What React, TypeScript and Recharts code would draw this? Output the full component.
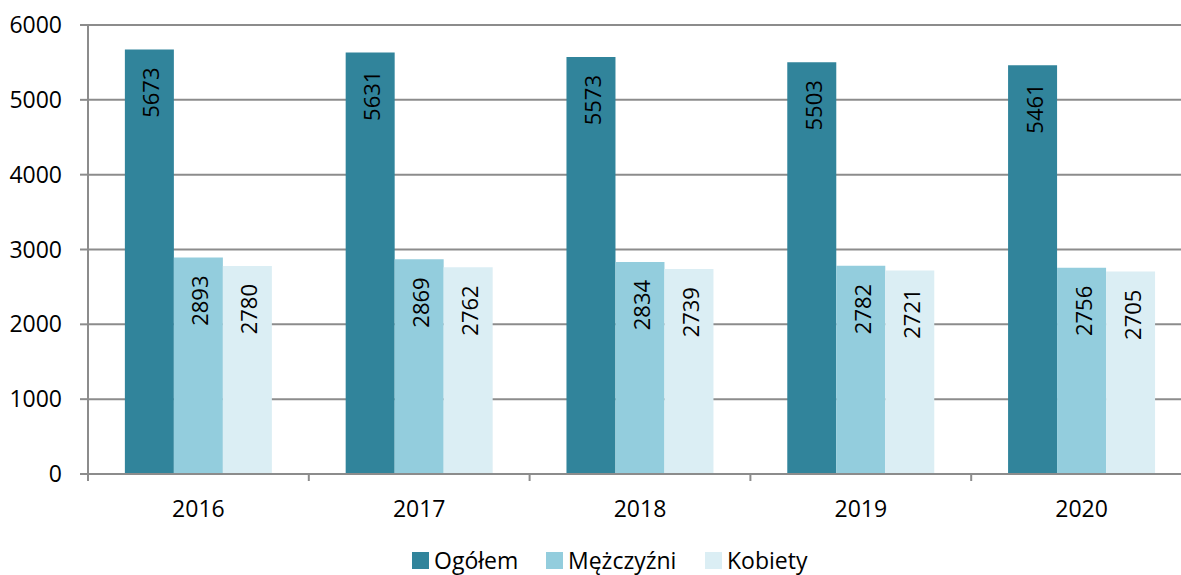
import { Bar, BarChart, CartesianGrid, LabelList, Legend, XAxis, YAxis } from "recharts";

const years = ["2016", "2017", "2018", "2019", "2020"];
const ogolem = [5673, 5631, 5573, 5503, 5461];
const mezczyzni = [2893, 2869, 2834, 2782, 2756];
const kobiety = [2780, 2762, 2739, 2721, 2705];
const yTicks = [0, 1000, 2000, 3000, 4000, 5000, 6000];

const series = [
  { key: "ogolem", name: "Ogółem", color: "#31849B" },
  { key: "mezczyzni", name: "Mężczyźni", color: "#93CDDD" },
  { key: "kobiety", name: "Kobiety", color: "#DBEEF4" },
];

const data = years.map((year, i) => ({
  year,
  ogolem: ogolem[i],
  mezczyzni: mezczyzni[i],
  kobiety: kobiety[i],
}));

const FONT = "'Open Sans', sans-serif";
const AXIS = "#8c8c8c";
const BAND = 1104 / years.length;
// legend item widths, so the swatches land where they do in the original
const LEGEND_W = [134, 159, 110];

function BarValue(props: any) {
  const { x, y, width, value } = props;
  const cx = x + width / 2 + 1;
  const y0 = y + 18;
  return (
    <text
      x={cx}
      y={y0}
      transform={`rotate(-90, ${cx}, ${y0})`}
      textAnchor="end"
      dominantBaseline="central"
      fontSize={22}
      fontFamily={FONT}
      fill="#000"
    >
      {value}
    </text>
  );
}

function YearTick(props: any) {
  const { x, y, payload, index } = props;
  const left = x - BAND / 2;
  const right = x + BAND / 2;
  return (
    <g>
      <line x1={left} x2={left} y1={y - 7} y2={y} stroke={AXIS} strokeWidth={2} />
      {index === years.length - 1 && (
        <line x1={right} x2={right} y1={y - 7} y2={y} stroke={AXIS} strokeWidth={2} />
      )}
      <text
        x={x}
        y={y + 27}
        textAnchor="middle"
        dominantBaseline="central"
        fontSize={23}
        fontFamily={FONT}
        fill="#000"
      >
        {payload.value}
      </text>
    </g>
  );
}

function LegendBox() {
  return (
    <div
      style={{
        height: 31,
        display: "flex",
        alignItems: "center",
        fontFamily: FONT,
        fontSize: 23,
        lineHeight: "17px",
        color: "#000",
        boxSizing: "border-box",
        paddingTop: 2,
        paddingLeft: 412,
      }}
    >
      {series.map((s, i) => (
        <div
          key={s.key}
          style={{ display: "flex", alignItems: "center", width: LEGEND_W[i], whiteSpace: "nowrap" }}
        >
          <span
            style={{ width: 17, height: 17, background: s.color, display: "inline-block", marginRight: 5 }}
          />
          <span>{s.name}</span>
        </div>
      ))}
    </div>
  );
}

export default function App() {
  return (
    <div
      style={{
        position: "absolute",
        left: 0,
        top: 0,
        width: 1181,
        height: 575,
        overflow: "hidden",
        background: "#fff",
      }}
    >
      <BarChart
        width={1192}
        height={575}
        data={data}
        margin={{ top: 25, right: 0, bottom: 0, left: 0 }}
        barCategoryGap="16.7%"
        barGap={0}
      >
        <CartesianGrid vertical={false} stroke={AXIS} strokeWidth={2} />
        <XAxis
          dataKey="year"
          height={70}
          axisLine={{ stroke: AXIS, strokeWidth: 2 }}
          tickLine={false}
          tickSize={7}
          tickMargin={0}
          tick={<YearTick />}
          interval={0}
        />
        <YAxis
          width={88}
          domain={[0, 6000]}
          ticks={yTicks}
          axisLine={{ stroke: AXIS, strokeWidth: 2 }}
          tickLine={{ stroke: AXIS, strokeWidth: 2 }}
          tickSize={8}
          tickMargin={18}
          tick={{ fontSize: 23, fontFamily: FONT, fill: "#000" }}
          interval={0}
        />
        <Legend verticalAlign="bottom" content={<LegendBox />} />
        {series.map((s) => (
          <Bar key={s.key} dataKey={s.key} name={s.name} fill={s.color} isAnimationActive={false}>
            <LabelList dataKey={s.key} content={<BarValue />} />
          </Bar>
        ))}
      </BarChart>
    </div>
  );
}
